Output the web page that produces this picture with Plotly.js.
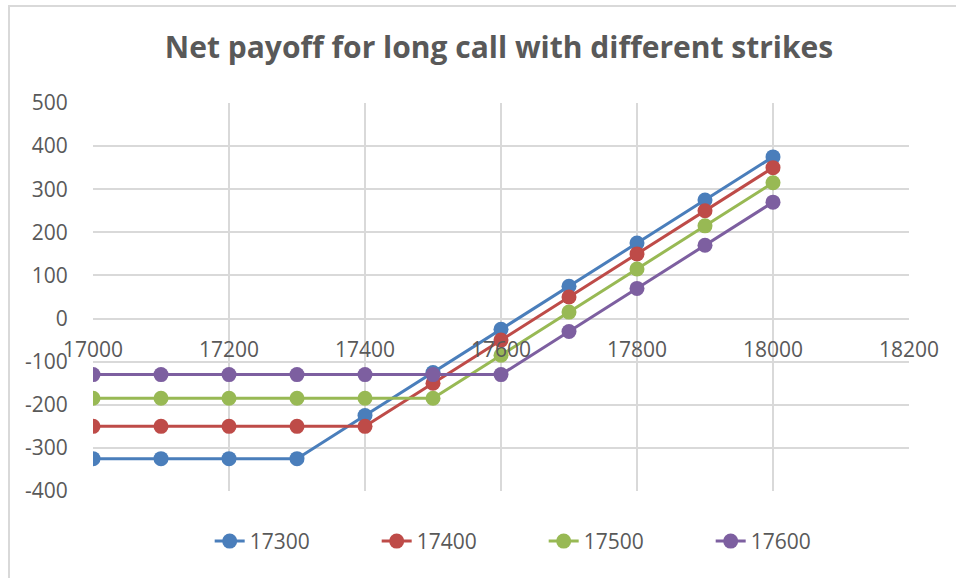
<!DOCTYPE html>
<html>
<head>
<meta charset="utf-8">
<script src="https://cdn.plot.ly/plotly-3.0.1.min.js"></script>
<style>
  html, body { margin: 0; padding: 0; background: #fff; }
  #frame { position: absolute; left: 8px; top: 5px; width: 948px; height: 573px;
           border-left: 2px solid #d9d9d9; border-top: 2px solid #d9d9d9; }
  #chart { position: absolute; left: 0; top: 0; width: 956px; height: 578px; }
</style>
</head>
<body>
<div id="frame"></div>
<div id="chart"></div>
<script>
// spot prices at expiry
const spot = [17000, 17100, 17200, 17300, 17400, 17500, 17600, 17700, 17800, 17900, 18000];

// net payoff per strike
const strike17300 = [-325, -325, -325, -325, -225, -125, -25, 75, 175, 275, 375];
const strike17400 = [-250, -250, -250, -250, -250, -150, -50, 50, 150, 250, 350];
const strike17500 = [-185, -185, -185, -185, -185, -185, -85, 15, 115, 215, 315];
const strike17600 = [-130, -130, -130, -130, -130, -130, -130, -30, 70, 170, 270];

const seriesNames = ['17300', '17400', '17500', '17600'];
const seriesColors = ['#4A7EBB', '#BE4B48', '#98B954', '#7D5FA0'];
const allSeries = [strike17300, strike17400, strike17500, strike17600];

const xTicks = [17000, 17200, 17400, 17600, 17800, 18000, 18200];
const yTicks = [-400, -300, -200, -100, 0, 100, 200, 300, 400, 500];

const traces = allSeries.map((ys, i) => ({
    x: spot,
    y: ys,
    name: seriesNames[i],
    type: 'scatter',
    mode: 'lines+markers',
    line: { color: seriesColors[i], width: 3 },
    marker: { color: seriesColors[i], size: 15 }
}));

const textColor = '#595959';
const gridColor = '#d9d9d9';

const layout = {
    width: 956,
    height: 578,
    paper_bgcolor: 'rgba(0,0,0,0)',
    plot_bgcolor: 'rgba(0,0,0,0)',
    font: { family: 'Open Sans, Liberation Sans, sans-serif', color: textColor, size: 20 },
    title: {
        text: '<b>Net payoff for long call with different strikes</b>',
        font: { family: 'Open Sans, sans-serif', size: 30, color: textColor },
        x: 0.522, xanchor: 'center',
        y: 0.918, yanchor: 'middle'
    },
    margin: { l: 93, r: 47, t: 103, b: 87 },
    xaxis: {
        range: [17000, 18200],
        tickvals: xTicks,
        ticktext: xTicks.map(String),
        showgrid: true,
        gridcolor: gridColor,
        gridwidth: 2,
        zeroline: false,
        showline: false,
        anchor: 'free',
        position: 172 / 388,
        ticks: 'outside',
        ticklen: 12,
        tickcolor: 'rgba(0,0,0,0)',
        tickfont: { size: 21, color: textColor }
    },
    yaxis: {
        range: [-400, 500],
        tickvals: yTicks,
        ticktext: yTicks.map(String),
        showgrid: true,
        gridcolor: gridColor,
        gridwidth: 2,
        zeroline: false,
        showline: false,
        ticks: 'outside',
        ticklen: 20,
        tickcolor: 'rgba(0,0,0,0)',
        tickfont: { size: 21, color: textColor }
    },
    legend: {
        orientation: 'h',
        x: 0.143, xanchor: 'left',
        y: -0.13, yanchor: 'middle',
        font: { size: 21, color: textColor },
        entrywidth: 122,
        entrywidthmode: 'pixels',
        traceorder: 'normal'
    },
    showlegend: true
};

Plotly.newPlot('chart', traces, layout, { displayModeBar: false, staticPlot: true });
</script>
</body>
</html>
